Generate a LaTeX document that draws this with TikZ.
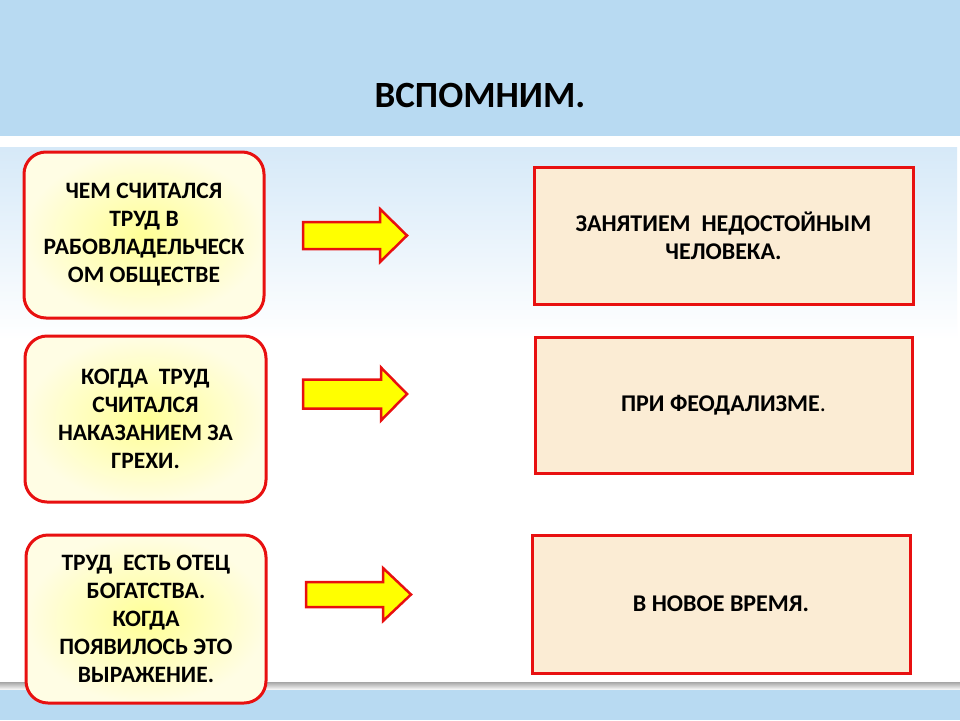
\documentclass[tikz,border=0pt]{standalone}
\usepackage{fontspec}
\setmainfont{Carlito}
\definecolor{skyband}{RGB}{184,218,242}
\definecolor{skylight}{RGB}{214,233,248}
\definecolor{boxred}{RGB}{232,16,16}
\definecolor{beige}{RGB}{251,236,212}
\definecolor{lemon}{RGB}{255,255,150}
\definecolor{cream}{RGB}{255,253,228}
\definecolor{arrowyellow}{RGB}{255,255,0}
\tikzset{
  qbox/.style={draw=boxred, line width=3pt, rounded corners=22pt,
    inner color=lemon, outer color=cream,
    align=center, font=\bfseries\fontsize{23.5}{28}\selectfont, text=black},
  abox/.style={draw=boxred, line width=3pt, fill=beige,
    align=center, font=\bfseries\fontsize{24}{28}\selectfont, text=black},
  blockarrow/.style={draw=boxred, line width=2.5pt, fill=arrowyellow, line join=miter},
  titletext/.style={font=\bfseries\fontsize{37}{40}\selectfont, text=black}
}
\newcommand{\barrow}[7]{% name, tail x, base x, tip x, mid y, shaft half, head half
  \coordinate (#1) at (#2,#5);
  \draw[blockarrow] (#2,#5-#6) -- (#3,#5-#6) -- (#3,#5-#7) -- (#4,#5)
    -- (#3,#5+#7) -- (#3,#5+#6) -- (#2,#5+#6) -- cycle;}
\begin{document}
\begin{tikzpicture}[x=1pt,y=-1pt]
\useasboundingbox (0,0) rectangle (960,720);
% background
\fill[white] (0,0) rectangle (960,720);
\fill[skyband] (0,0) rectangle (960,136);
\shade[top color=skylight, bottom color=white] (0,147) rectangle (957,340);
\shade[top color=gray!70, bottom color=white] (0,690) rectangle (960,682);
\fill[skyband] (0,690) rectangle (960,720);
% title
\node[titletext] (title) at (480,95) {ВСПОМНИМ.};
% question boxes
\node[qbox, minimum width=240pt, minimum height=166pt] (q1) at (144,235)
  {ЧЕМ СЧИТАЛСЯ\\ТРУД В\\РАБОВЛАДЕЛЬЧЕСК\\ОМ ОБЩЕСТВЕ};
\node[qbox, minimum width=241pt, minimum height=166pt] (q2) at (145.5,419)
  {КОГДА~~ТРУД\\СЧИТАЛСЯ\\НАКАЗАНИЕМ ЗА\\ГРЕХИ.};
\node[qbox, minimum width=240pt, minimum height=168pt] (q3) at (146,619)
  {ТРУД~~ЕСТЬ ОТЕЦ\\БОГАТСТВА.\\КОГДА\\ПОЯВИЛОСЬ ЭТО\\ВЫРАЖЕНИЕ.};
% answer boxes
\node[abox, minimum width=379pt, minimum height=137pt] (a1) at (723.5,235.5)
  {ЗАНЯТИЕМ~~НЕДОСТОЙНЫМ\\ЧЕЛОВЕКА.};
\node[abox, minimum width=377pt, minimum height=136pt] (a2) at (723.5,405)
  {ПРИ ФЕОДАЛИЗМЕ\textmd{.}};
\node[abox, minimum width=378pt, minimum height=138pt] (a3) at (721,604)
  {В НОВОЕ ВРЕМЯ.};
% block arrows
\barrow{r1}{303}{380}{407}{235.5}{13.5}{26.5}
\barrow{r2}{303}{381}{407}{394}{14.5}{26.5}
\barrow{r3}{306}{383}{411}{594.5}{12.5}{26.5}
\end{tikzpicture}
\end{document}
